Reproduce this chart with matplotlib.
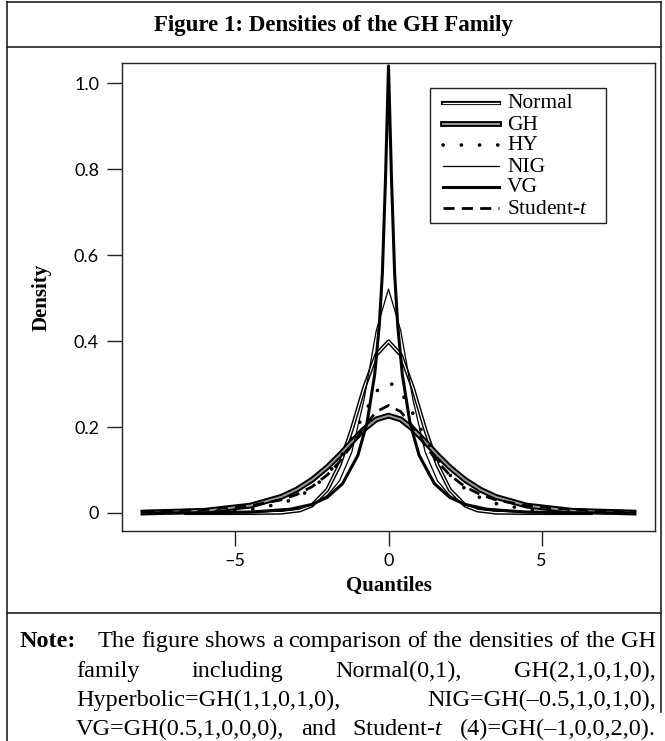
import matplotlib
matplotlib.use('Agg')
import matplotlib.pyplot as plt
import matplotlib.patheffects as pe
from matplotlib.lines import Line2D
from matplotlib.patches import Rectangle

plt.rcParams['mathtext.fontset'] = 'custom'
plt.rcParams['mathtext.rm'] = 'Liberation Serif'
plt.rcParams['mathtext.it'] = 'Liberation Serif:italic'
plt.rcParams['font.family'] = ['Liberation Serif', 'DejaVu Serif']

# ---------------- data ----------------
x_normal = [-6.6, -4.5, -3.5, -2.9, -2.5, -2.0, -1.6, -1.2, -0.8, -0.4, 0.0,
            0.4, 0.8, 1.2, 1.6, 2.0, 2.5, 2.9, 3.5, 4.5, 6.6]
y_normal = [0.0, 0.0, 0.0009, 0.006, 0.0175, 0.054, 0.111, 0.194, 0.290, 0.368, 0.399,
            0.368, 0.290, 0.194, 0.111, 0.054, 0.0175, 0.006, 0.0009, 0.0, 0.0]

x_gh = [-8.0, -6.0, -4.5, -3.5, -3.0, -2.5, -2.0, -1.6, -1.2, -0.8, -0.4, 0.0,
        0.4, 0.8, 1.2, 1.6, 2.0, 2.5, 3.0, 3.5, 4.5, 6.0, 8.0]
y_gh = [0.0009, 0.005, 0.0172, 0.0375, 0.0542, 0.0769, 0.1064, 0.1346, 0.1653, 0.1950, 0.2177, 0.2264,
        0.2177, 0.1950, 0.1653, 0.1346, 0.1064, 0.0769, 0.0542, 0.0375, 0.0172, 0.005, 0.0009]

x_hy = [-8.0, -6.0, -4.5, -3.5, -3.0, -2.5, -2.0, -1.6, -1.2, -0.8, -0.4, 0.0,
        0.4, 0.8, 1.2, 1.6, 2.0, 2.5, 3.0, 3.5, 4.5, 6.0, 8.0]
y_hy = [0.0003, 0.0019, 0.0083, 0.0218, 0.0352, 0.0563, 0.0888, 0.1258, 0.1742, 0.2308, 0.2829, 0.3056,
        0.2829, 0.2308, 0.1742, 0.1258, 0.0888, 0.0563, 0.0352, 0.0218, 0.0083, 0.0019, 0.0003]

x_nig = [-8.0, -6.0, -4.5, -3.5, -2.9, -2.5, -2.0, -1.6, -1.2, -0.8, -0.4, 0.0,
         0.4, 0.8, 1.2, 1.6, 2.0, 2.5, 2.9, 3.5, 4.5, 6.0, 8.0]
y_nig = [0.0, 0.0002, 0.0012, 0.0045, 0.0106, 0.0188, 0.0405, 0.0746, 0.141, 0.263, 0.424, 0.521,
         0.424, 0.263, 0.141, 0.0746, 0.0405, 0.0188, 0.0106, 0.0045, 0.0012, 0.0002, 0.0]

x_vg = [-8.0, -6.0, -4.5, -3.2, -2.5, -2.0, -1.5, -1.0, -0.7, -0.45, -0.3, -0.2, -0.1, 0.0,
        0.1, 0.2, 0.3, 0.45, 0.7, 1.0, 1.5, 2.0, 2.5, 3.2, 4.5, 6.0, 8.0]
y_vg = [0.0, 0.0004, 0.002, 0.0088, 0.0198, 0.0363, 0.0681, 0.134, 0.210, 0.3225, 0.437, 0.558, 0.7725, 1.04,
        0.7725, 0.558, 0.437, 0.3225, 0.210, 0.134, 0.0681, 0.0363, 0.0198, 0.0088, 0.002, 0.0004, 0.0]

x_t = [-8.0, -7.0, -6.0, -4.5, -3.5, -3.0, -2.5, -2.0, -1.6, -1.2, -0.8, -0.4, 0.0,
       0.4, 0.8, 1.2, 1.6, 2.0, 2.5, 3.0, 3.5, 4.5, 6.0, 7.0, 8.0]
y_t = [0.0036, 0.0052, 0.0079, 0.0168, 0.0305, 0.0427, 0.0609, 0.0884, 0.119, 0.1576, 0.2001, 0.2357, 0.25,
       0.2357, 0.2001, 0.1576, 0.119, 0.0884, 0.0609, 0.0427, 0.0305, 0.0168, 0.0079, 0.0052, 0.0036]

series_labels = ['Normal', 'GH', 'HY', 'NIG', 'VG', 'Student-$t$']
x_ticks = [-5, 0, 5]
x_ticklabels = ['\u20135', '0', '5']
y_ticks = [0, 0.2, 0.4, 0.6, 0.8, 1.0]
y_ticklabels = ['0', '0.2', '0.4', '0.6', '0.8', '1.0']

title_text = 'Figure 1: Densities of the GH Family'
note_lines = [
    'The figure shows a comparison of the densities of the GH',
    'family including Normal(0,1), GH(2,1,0,1,0),',
    'Hyperbolic=GH(1,1,0,1,0), NIG=GH(\u20130.5,1,0,1,0),',
    'VG=GH(0.5,1,0,0,0), and Student-$t$ (4)=GH(\u20131,0,0,2,0).',
]

# ---------------- styles ----------------
styles = [
    dict(color='white', lw=0.9,
         path_effects=[pe.Stroke(linewidth=3.0, foreground='black'), pe.Normal()]),
    dict(color='#9a9a9a', lw=1.4,
         path_effects=[pe.Stroke(linewidth=4.2, foreground='black'), pe.Normal()]),
    dict(color='black', lw=2.6, linestyle=(0, (0.05, 5.0)), dash_capstyle='round'),
    dict(color='black', lw=0.9),
    dict(color='black', lw=2.2),
    dict(color='black', lw=2.0, linestyle=(0, (4.0, 2.6))),
]

# ---------------- figure ----------------
W, H = 665, 741
fig = plt.figure(figsize=(W / 100, H / 100), dpi=100)


def fx(px):
    return px / W


def fy(py):
    return 1 - py / H


frame_kw = dict(transform=fig.transFigure, color='#222222', lw=1.2)
fig.add_artist(Line2D([fx(7), fx(661)], [fy(2), fy(2)], **frame_kw))
fig.add_artist(Line2D([fx(7), fx(661)], [fy(47), fy(47)], **frame_kw))
fig.add_artist(Line2D([fx(7), fx(661)], [fy(613), fy(613)], **frame_kw))
fig.add_artist(Line2D([fx(7), fx(7)], [fy(2), fy(741)], **frame_kw))
fig.add_artist(Line2D([fx(661), fx(661)], [fy(2), fy(712)], **frame_kw))

fig.text(fx(334), fy(25), title_text, ha='center', va='center', fontsize=16.5,
         fontweight='bold', family='Liberation Serif')

ax = fig.add_axes([fx(122), fy(531), fx(655) - fx(122), fy(63) - fy(531)])

xs = [x_normal, x_gh, x_hy, x_nig, x_vg, x_t]
ys = [y_normal, y_gh, y_hy, y_nig, y_vg, y_t]
for xv, yv, st, lab in zip(xs, ys, styles, series_labels):
    ax.plot(xv, yv, label=lab, **st)

ax.set_xlim(-8.7, 8.7)
ax.set_ylim(-0.042, 1.047)
ax.set_xticks(x_ticks)
ax.set_xticklabels(x_ticklabels, family='Lato', fontsize=13)
ax.set_yticks(y_ticks)
ax.set_yticklabels(y_ticklabels, family='Lato', fontsize=13)
ax.tick_params(direction='out', length=10.5, width=1.0, color='#222222')
ax.tick_params(axis='x', pad=5)
ax.tick_params(axis='y', pad=6)
for s in ax.spines.values():
    s.set_linewidth(1.0)
    s.set_color('#222222')

ax.set_xlabel('Quantiles', fontsize=15, fontweight='bold', labelpad=5)
ax.set_ylabel('Density', fontsize=15, fontweight='bold', labelpad=16)

# ---------------- legend (boxed, top right inside the panel) ----------------
fig.add_artist(Rectangle((fx(430), fy(223)), fx(606) - fx(430), fy(88) - fy(223),
                         transform=fig.transFigure, fill=True, facecolor='white',
                         edgecolor='#222222', lw=1.0))
row_y = [103, 124, 145, 166, 187, 208]
for ry, st, lab in zip(row_y, styles, series_labels):
    fig.add_artist(Line2D([fx(443), fx(499)], [fy(ry), fy(ry)],
                          transform=fig.transFigure, **st))
    fig.text(fx(507), fy(ry + 1), lab, ha='left', va='center', fontsize=15.5)

# ---------------- note (justified) ----------------
renderer = fig.canvas.get_renderer()
NOTE_SIZE = 17.5
line_y = [647, 677, 706, 735]
line_x0 = [98, 76, 76, 76]
right_px = 656
fig.text(fx(20), fy(line_y[0]), 'Note:', ha='left', va='baseline', fontsize=NOTE_SIZE,
         fontweight='bold')
for i, line in enumerate(note_lines):
    words = line.split(' ')
    objs = [fig.text(0, 0, w, ha='left', va='baseline', fontsize=NOTE_SIZE) for w in words]
    widths = [o.get_window_extent(renderer).width for o in objs]
    gap = (right_px - line_x0[i] - sum(widths)) / (len(words) - 1)
    xcur = line_x0[i]
    for o, wdt in zip(objs, widths):
        o.set_position((fx(xcur), fy(line_y[i])))
        xcur += wdt + gap

fig.savefig('out.png', dpi=100)
